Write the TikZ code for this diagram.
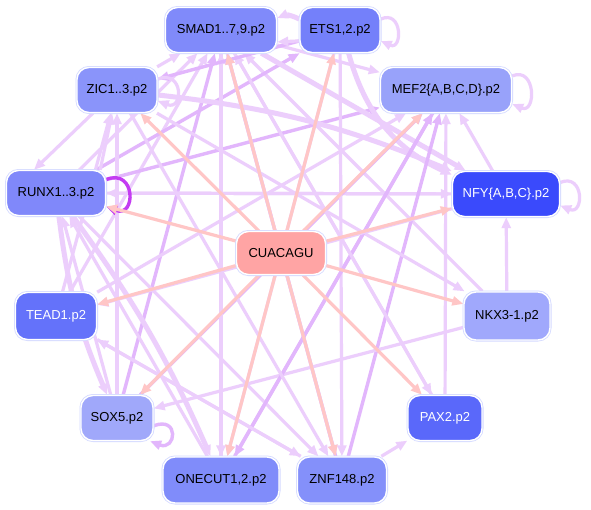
\documentclass[tikz,border=0pt]{standalone}
\usepackage{fontspec}
\setmainfont{Liberation Sans}
\usetikzlibrary{arrows.meta,calc}
\pgfdeclarelayer{bg}
\pgfdeclarelayer{paper}
\pgfsetlayers{paper,bg,main}
\definecolor{pk}{RGB}{255,198,198}
\definecolor{vl}{RGB}{236,206,252}
\definecolor{vm}{RGB}{226,182,252}
\definecolor{vd}{RGB}{196,60,242}
\definecolor{ring}{RGB}{212,218,255}
\definecolor{cS}{RGB}{128,138,250}
\definecolor{cE}{RGB}{116,128,250}
\definecolor{cZ}{RGB}{138,148,250}
\definecolor{cM}{RGB}{152,162,250}
\definecolor{cN}{RGB}{58,74,252}
\definecolor{cR}{RGB}{128,136,250}
\definecolor{cC}{RGB}{255,164,164}
\definecolor{cT}{RGB}{100,114,250}
\definecolor{cX}{RGB}{160,168,250}
\definecolor{cK}{RGB}{160,168,252}
\definecolor{cP}{RGB}{90,104,250}
\definecolor{cO}{RGB}{128,140,250}
\definecolor{cF}{RGB}{132,144,250}
\begin{document}
\begin{tikzpicture}[x=1pt,y=-1pt,
  tf/.style={rounded corners=12pt, fill=#1, draw=white, line width=1.4pt,
    preaction={draw=ring,line width=3pt}, font=\fontsize{13}{15}\selectfont,
    inner sep=0pt, minimum height=45pt},
  wt/.style={text=white},
  tip/.style={-{Triangle[length=11pt,width=9pt]}},
  pe/.style={draw=pk, line width=3.2pt, tip},
  ve/.style={draw=vl, line width=3.2pt, tip},
  vm/.style={draw=vm, line width=3.4pt, tip},
  vt/.style={draw=vl, line width=5pt, tip},
  vd/.style={draw=vd, line width=3.4pt, tip}]
\begin{pgfonlayer}{paper}
\fill[white] (0,0) rectangle (591,509);
\end{pgfonlayer}
\useasboundingbox (0,0) rectangle (591,509);

\node[tf=cS, minimum width=111pt] (S) at (221,30) {SMAD1..7,9.p2};
\node[tf=cE, minimum width=80pt] (E) at (340,30) {ETS1,2.p2};
\node[tf=cZ, minimum width=80pt] (Z) at (117,90) {ZIC1..3.p2};
\node[tf=cM, minimum width=131pt] (M) at (446,90) {MEF2\{A,B,C,D\}.p2};
\node[tf=cN, wt, minimum width=107pt] (N) at (506,194) {NFY\{A,B,C\}.p2};
\node[tf=cR, minimum width=99pt] (R) at (56,193) {RUNX1..3.p2};
\node[tf=cC, minimum width=89pt, minimum height=43pt] (C) at (281,253) {CUACAGU};
\node[tf=cT, wt, minimum width=81pt, minimum height=47pt] (T) at (56,316) {TEAD1.p2};
\node[tf=cX, minimum width=72pt] (X) at (117,418) {SOX5.p2};
\node[tf=cK, minimum width=86pt, minimum height=48pt] (K) at (507,316) {NKX3-1.p2};
\node[tf=cP, wt, minimum width=74pt] (P) at (445,418) {PAX2.p2};
\node[tf=cO, minimum width=116pt, minimum height=46pt] (O) at (221,480) {ONECUT1,2.p2};
\node[tf=cF, minimum width=89pt, minimum height=46pt] (F) at (342,480) {ZNF148.p2};

\begin{pgfonlayer}{bg}
% purple TF-to-TF edges
\draw[ve] (Z) -- (S);
\draw[ve] (R) -- (S);
\draw[ve] (T) -- (S);
\draw[vm] (X) -- (S);
\draw[ve] (O) -- (S);
\draw[vm] (F) -- (S);
\draw[ve] (P) -- (S);
\draw[ve] (K) -- (S);
\draw[ve] (S) -- (M);
\draw[vm] (R) -- (M);
\draw[vm] (R) -- (E);
\draw[ve] (R) -- (N);
\draw[vt] (Z) to[bend left=8] (N);
\draw[vt] (S) -- (N);
\draw[vt] (E) to[bend right=25] (N);
\draw[ve] (N) -- (R);
\draw[ve] (T) -- (Z);
\draw[ve] (X) -- (Z);
\draw[ve] ([xshift=-6pt]R.north east) -- (Z);
\draw[ve] (Z) -- ([xshift=-22pt]R.north);
\draw[ve] (T) -- (M);
\draw[vm] (X) -- (M);
\draw[vm] (O) -- (M);
\draw[vm] (F) -- (M);
\draw[ve] (P) -- (M);
\draw[ve] (N) -- (M);
\draw[ve] (K) -- (N);
\draw[ve] (K) -- (X);
\draw[ve] (Z) -- (K);
\draw[vt] (R) to[bend right=8] (X);
\draw[vt] (R) to[bend left=6] (O);
\draw[ve] (R) -- (F);
\draw[ve] (T) -- (F);
\draw[ve] (S) -- (O);
\draw[ve] (S) -- (F);
\draw[ve] (E) -- (F);
\draw[ve] (E) -- (O);
\draw[vm] (M) -- (O);
\draw[ve] (F) -- (P);
\draw[ve] (F) -- (T);
\draw[ve] (O) -- (R);
\draw[ve] (X) -- (R);
\draw[ve] (N) -- (T);
\draw[ve] (Z) -- (F);
\draw[ve] (S) -- (P);
\draw[vm] (E) -- (Z);
% SMAD <-> ETS
\draw[vt] (E.165) to[bend right=25] (S.12);
\draw[ve] (E.195) -- (S.-12);
% self loops
\draw[ve] (E.15) .. controls +(22,-10) and +(22,10) .. (E.-15);
\draw[ve] (Z.15) .. controls +(26,-10) and +(26,10) .. (Z.-15);
\draw[ve] (M.12) .. controls +(24,-10) and +(24,10) .. (M.-12);
\draw[ve] (N.12) .. controls +(24,-10) and +(24,10) .. (N.-12);
\draw[vd] (R.15) .. controls +(30,-12) and +(30,12) .. (R.-15);
\draw[vm] (X.-12) .. controls +(26,-10) and +(26,10) .. (X.-35);
% pink edges from CUACAGU
\foreach \t in {S,E,Z,M,N,R,T,X,K,P,O,F} \draw[pe] (C) -- (\t);
\end{pgfonlayer}
\end{tikzpicture}
\end{document}
